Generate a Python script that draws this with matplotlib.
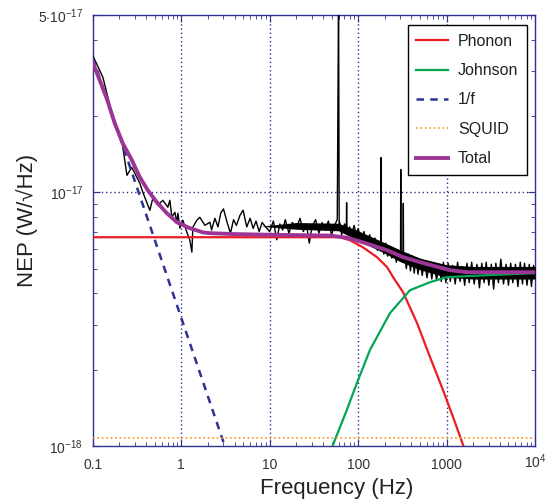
import numpy as np
import matplotlib
matplotlib.use("Agg")
import matplotlib.pyplot as plt
from matplotlib.ticker import FixedLocator, LogLocator, NullFormatter
from matplotlib.transforms import ScaledTranslation

plt.rcParams['font.family'] = ['Liberation Sans', 'DejaVu Sans']
plt.rcParams['mathtext.fontset'] = 'custom'
plt.rcParams['mathtext.rm'] = 'Liberation Sans'
plt.rcParams['mathtext.it'] = 'Liberation Sans:italic'

# all NEP values in units of 1e-18 W/sqrt(Hz)
SCALE = 1e-18

# measured noise (black trace)
meas_freq = [0.1, 0.13, 0.164, 0.213, 0.243, 0.276, 0.34, 0.368, 0.441, 0.477,
             0.544, 0.619, 0.705, 0.743, 0.783, 0.846, 0.892, 0.916, 0.964, 1.042,
             1.156, 1.25, 1.318, 1.352, 1.5, 1.62, 1.85, 2.11,
             2.2, 2.4, 2.6, 2.8, 3.0, 3.3, 3.6, 3.9, 4.2, 4.6, 5.0, 5.5, 6.0, 6.5,
             7.0, 7.6, 8.2, 9.0, 10, 11, 12, 13, 14, 15, 16.5, 18, 20, 22, 24, 26,
             28, 30, 33, 36, 39, 42, 46, 50, 54, 58, 60, 61, 62, 65, 70, 73.5, 74, 74.5,
             76, 80, 85, 90, 95,
             100, 108, 116, 125, 135, 145, 155, 165, 175, 180,
             181, 182, 187, 195, 205, 215, 225, 240, 255, 270, 285, 301, 303, 305,
             310, 322, 324, 326, 335,
             350, 370, 390, 410, 430, 450, 475, 500, 530,
             560, 600, 640, 680, 720, 770, 820, 870, 920, 980, 1040, 1100, 1170,
             1250, 1330, 1420, 1500, 1600, 1700, 1800, 1920, 2050, 2200, 2350, 2500,
             2650, 2800, 3000, 3200, 3400, 3600, 3850, 4100, 4400, 4700, 5000, 5300,
             5600, 6000, 6400, 6800, 7200, 7600, 8100, 8600, 9100, 9600, 10000]
meas_nep = [34.6, 28.4, 20.5, 16.0, 11.67, 12.54, 10.85, 10.0, 8.49, 9.47,
            8.89, 9.30, 8.73, 9.30, 7.97, 8.34, 7.62, 8.27, 7.22, 7.76,
            6.96, 6.47, 5.81, 7.28, 7.76, 7.97, 7.41, 7.62,
            7.1, 7.9, 7.3, 8.3, 8.6, 7.6, 6.9, 7.8, 7.4, 8.1, 8.5, 7.3, 7.9, 7.2,
            7.7, 7.0, 7.6, 7.3, 7.0, 7.7, 6.5, 7.5, 7.1, 7.8, 6.9, 7.6, 7.2, 7.9, 7.0, 7.5,
            6.3, 7.3, 7.8, 6.9, 7.6, 7.1, 7.7, 6.8, 7.4, 7.8, 60.0, 7.2, 7.6, 6.8, 7.5, 7.3, 9.1, 7.2,
            7.0, 7.3, 6.9, 7.4, 6.8,
            7.2, 6.4, 7.0, 6.3, 6.8, 6.1, 6.6, 5.9, 6.4, 6.0,
            13.7, 6.0, 6.3, 5.7, 6.3, 5.6, 6.1, 5.5, 6.0, 5.3, 5.9, 5.5, 12.3, 5.4,
            5.7, 5.5, 9.05, 5.3, 5.7,
            5.0, 5.7, 4.9, 5.6, 4.8, 5.5, 4.75, 5.45, 4.7,
            5.35, 4.6, 5.3, 4.55, 5.25, 4.5, 5.2, 4.45, 5.3, 4.4, 5.25, 4.45, 5.15,
            4.35, 5.3, 4.45, 5.1, 4.3, 5.25, 4.4, 5.3, 4.35, 5.2, 4.2, 5.25,
            4.4, 5.3, 4.3, 5.2, 4.15, 5.25, 4.4, 5.45, 4.35, 5.2, 4.3, 5.25,
            4.4, 5.2, 4.25, 5.3, 4.35, 5.25, 4.3, 5.2, 4.25, 5.15, 4.6]

# dense core of the measured trace (lower / upper edge)
band_freq = [8, 20, 60, 100, 200, 300, 500, 1000, 2000, 10000]
band_low = [7.35, 7.15, 7.05, 6.45, 5.75, 5.32, 4.95, 4.62, 4.55, 4.55]
band_high = [7.35, 7.60, 7.55, 7.05, 6.32, 5.92, 5.50, 5.18, 5.10, 5.10]

# model components
phonon_freq = [0.1, 62.2, 80.7, 113, 163, 212, 248, 321, 463, 649, 910, 1181, 1533, 1700]
phonon_nep = [6.65, 6.65, 6.47, 6.07, 5.55, 5.07, 4.63, 4.04, 3.05, 2.24, 1.66, 1.30, 1.01, 0.88]

johnson_freq = [46, 51.9, 74.7, 96.8, 136, 229, 385, 649, 1011, 2866, 10000]
johnson_nep = [0.88, 1.01, 1.39, 1.77, 2.39, 3.34, 4.11, 4.42, 4.63, 4.71, 4.80]

onef_freq = [0.1, 3.1]
onef_nep = [34.0, 1.0]

squid_freq = [0.1, 10000]
squid_nep = [1.07, 1.07]

total_freq = [0.1, 0.120, 0.144, 0.177, 0.218, 0.276, 0.340, 0.419, 0.530, 0.687,
              0.892, 1.25, 1.75, 2.11, 4.0, 10, 48, 74.7, 113, 212, 321, 600,
              1092, 1702, 10000]
total_nep = [32.5, 27.6, 23.4, 18.7, 15.6, 13.4, 11.46, 10.18, 9.13, 8.27,
             7.62, 7.22, 6.95, 6.90, 6.84, 6.80, 6.75, 6.62, 6.35, 5.91, 5.55, 5.21,
             4.93, 4.84, 4.84]

navy = '#2e3192'

fig = plt.figure(figsize=(5.46, 5.01), dpi=100)
ax = fig.add_axes([0.170, 0.110, 0.810, 0.860])

ax.fill_between(band_freq, np.array(band_low) * SCALE, np.array(band_high) * SCALE,
                color='black', lw=0, zorder=3)
ax.plot(meas_freq, np.array(meas_nep) * SCALE, color='black', lw=1.0, zorder=3)
ax.plot(phonon_freq, np.array(phonon_nep) * SCALE, color='#ed1c24', lw=1.6, label='Phonon', zorder=4)
ax.plot(johnson_freq, np.array(johnson_nep) * SCALE, color='#00a651', lw=1.6, label='Johnson', zorder=4)
ax.plot(onef_freq, np.array(onef_nep) * SCALE, color=navy, lw=1.8, ls=(0, (3, 2.5)), label='1/f', zorder=4)
ax.plot(squid_freq, np.array(squid_nep) * SCALE, color='#f7941d', lw=1.2, ls=':', label='SQUID', zorder=4)
ax.plot(total_freq, np.array(total_nep) * SCALE, color='#9b3596', lw=2.8, label='Total', zorder=5)

ax.set_xscale('log')
ax.set_yscale('log')
ax.set_xlim(0.1, 1e4)
ax.set_ylim(1e-18, 5e-17)

ax.xaxis.set_major_locator(FixedLocator([0.1, 1, 10, 100, 1000, 1e4]))
ax.set_xticklabels(['0.1', '1', '10', '100', '1000', r'$10^4$'])
ax.xaxis.set_minor_locator(LogLocator(base=10, subs=np.arange(2, 10), numticks=20))
ax.xaxis.set_minor_formatter(NullFormatter())
ax.yaxis.set_major_locator(FixedLocator([1e-18, 1e-17, 5e-17]))
ax.set_yticklabels([r'$10^{-18}$', r'$10^{-17}$', r'$5{\cdot}10^{-17}$'])
ax.yaxis.set_minor_locator(LogLocator(base=10, subs=np.arange(2, 10), numticks=20))
ax.yaxis.set_minor_formatter(NullFormatter())

ax.tick_params(which='both', direction='in', top=True, right=True, color=navy,
               labelcolor='#333333', labelsize=10)
ax.tick_params(axis='x', pad=9)
ax.tick_params(axis='y', pad=7)
ax.tick_params(which='major', length=5)
ax.tick_params(which='minor', length=3)
for sp in ax.spines.values():
    sp.set_color(navy)
    sp.set_linewidth(1.0)

# lift the 10^4 label so its base lines up with the other numbers
lbl = ax.get_xticklabels()[-1]
lbl.set_transform(lbl.get_transform() + ScaledTranslation(0, 4 / 72, fig.dpi_scale_trans))

for xv in [1, 10, 100, 1000]:
    ax.axvline(xv, color=navy, ls=(0, (1, 2)), lw=1.0, zorder=1)
ax.axhline(1e-17, color=navy, ls=(0, (1, 2)), lw=1.0, zorder=1)

ax.set_xlabel('Frequency (Hz)', fontsize=16, color='#222222')
ax.set_ylabel('NEP (W/\u221aHz)', fontsize=16, color='#222222')
ax.xaxis.set_label_coords(0.552, -0.075)
ax.yaxis.set_label_coords(-0.124, 0.524)

leg = ax.legend(loc='upper right', bbox_to_anchor=(0.982, 0.977), borderaxespad=0,
                fontsize=11.5, frameon=True, fancybox=False, framealpha=1,
                edgecolor='black', handlelength=2.0, handletextpad=0.6,
                labelspacing=0.9, borderpad=0.55)
leg.get_frame().set_linewidth(1.0)
for t in leg.get_texts():
    t.set_color('#222222')

fig.savefig('out.png', dpi=100)
